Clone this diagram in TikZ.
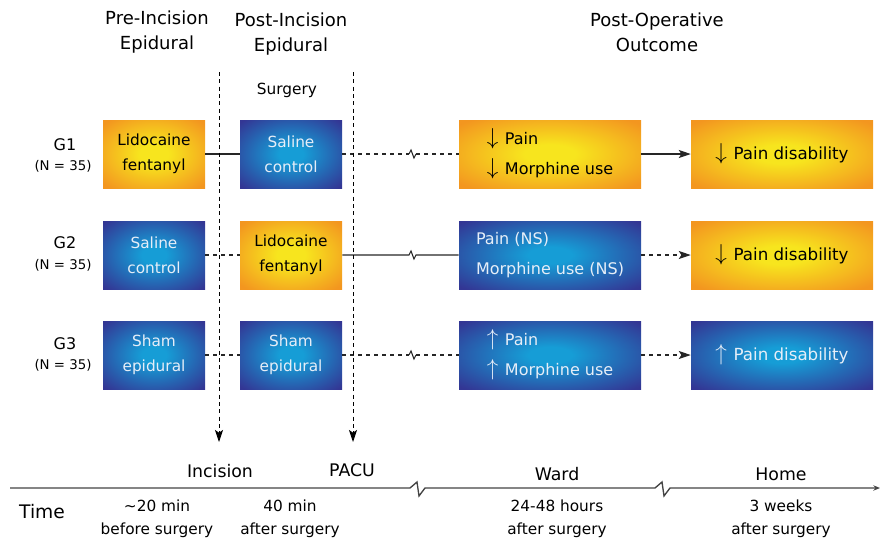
\documentclass[tikz,border=0pt]{standalone}
\usepackage{fontspec}
\setmainfont{DejaVu Sans}
\usepackage{xcolor}
\usepackage{tikz}
\usetikzlibrary{arrows.meta}

\definecolor{edgeorange}{HTML}{F3961F}
\definecolor{midyellow}{HTML}{F7E51E}
\definecolor{edgeblue}{HTML}{333694}
\definecolor{midcyan}{HTML}{169DD6}
\definecolor{paletext}{HTML}{E6EEF8}
\definecolor{axisgray}{HTML}{444444}

\pgfdeclareradialshading{orangeglow}{\pgfpoint{0bp}{0bp}}{color(0bp)=(midyellow); color(7bp)=(midyellow); color(33bp)=(edgeorange); color(50bp)=(edgeorange)}
\pgfdeclareradialshading{blueglow}{\pgfpoint{0bp}{0bp}}{color(0bp)=(midcyan); color(6bp)=(midcyan); color(34bp)=(edgeblue); color(50bp)=(edgeblue)}

\newcommand{\dn}{{\fontsize{17}{17}\selectfont$\downarrow$}\hspace{5pt}}
\newcommand{\up}{{\fontsize{17}{17}\selectfont$\uparrow$}\hspace{5pt}}

\tikzset{
  head/.style={align=center, font=\fontsize{13.5}{19}\selectfont},
  stage/.style={font=\fontsize{13}{16}\selectfont},
  when/.style={align=center, font=\fontsize{11.5}{17}\selectfont},
  glabel/.style={font=\fontsize{12}{14}\selectfont},
  nlabel/.style={font=\fontsize{10}{12}\selectfont},
  box/.style={rectangle, minimum width=76.5pt, minimum height=51pt, inner sep=0pt, align=center, font=\fontsize{11.5}{18.5}\selectfont},
  widebox/.style={box, minimum width=136.5pt, align=left, font=\fontsize{12}{22.5}\selectfont},
  endbox/.style={box, minimum width=136.5pt, font=\fontsize{12.5}{16}\selectfont},
  hot/.style={shading=orangeglow, text=black},
  cold/.style={shading=blueglow, text=paletext},
  link/.style={line width=0.8pt, black!85},
  guide/.style={line width=0.7pt, dash pattern=on 3pt off 2.5pt},
  axisline/.style={line width=1pt, axisgray}
}

\begin{document}
\begin{tikzpicture}[x=0.75pt,y=-0.75pt,>={Stealth[length=9pt,width=6pt,inset=2pt]}]
\useasboundingbox (0,0) rectangle (881,540) ;

\node[head] (pre) at (157,32) {Pre-Incision\\Epidural} ;
\node[head] (post) at (291,34) {Post-Incision\\Epidural} ;
\node[head] (outcome) at (657,32) {Post-Operative\\Outcome} ;
\node[when] (surgery) at (287,90) {Surgery} ;

\node[glabel] (g1) at (65,145) {G1} ;
\node[nlabel] (n1) at (63,166) {(N = 35)} ;
\node[glabel] (g2) at (65,243) {G2} ;
\node[nlabel] (n2) at (63,265) {(N = 35)} ;
\node[glabel] (g3) at (65,344) {G3} ;
\node[nlabel] (n3) at (63,365) {(N = 35)} ;

\node[box,hot] (g1a) at (154,154) {Lidocaine\\fentanyl} ;
\node[box,cold] (g1b) at (291,154) {Saline\\control} ;
\node[widebox,hot] (g1c) at (550,154) {\dn Pain\\\dn Morphine use} ;
\node[endbox,hot] (g1d) at (782,154) {\dn Pain disability} ;

\node[box,cold] (g2a) at (154,255) {Saline\\control} ;
\node[box,hot] (g2b) at (291,255) {Lidocaine\\fentanyl} ;
\node[widebox,cold] (g2c) at (550,255) {Pain (NS)\\Morphine use (NS)} ;
\node[endbox,hot] (g2d) at (782,255) {\dn Pain disability} ;

\node[box,cold] (g3a) at (154,355) {Sham\\epidural} ;
\node[box,cold] (g3b) at (291,355) {Sham\\epidural} ;
\node[widebox,cold] (g3c) at (550,355) {\up Pain\\\up Morphine use} ;
\node[endbox,cold] (g3d) at (782,355) {\up Pain disability} ;

\coordinate (k1) at (409,154) ;
\coordinate (k1b) at (416,154) ;
\coordinate (k2) at (409,255) ;
\coordinate (k2b) at (416,255) ;
\coordinate (k3) at (409,355) ;
\coordinate (k3b) at (416,355) ;

\draw[link] (g1a) -- (g1b) ;
\draw[link,dashed] (g1b) -- (k1) ;
\draw[link] (k1) -- ++(2,-4) -- ++(3,8) -- (k1b) ;
\draw[link,dashed] (k1b) -- (g1c) ;
\draw[link,->] (g1c) -- (g1d) ;

\draw[link,dashed] (g2a) -- (g2b) ;
\draw[link] (g2b) -- (k2) -- ++(2,-4) -- ++(3,8) -- (k2b) -- (g2c) ;
\draw[link,dashed,->] (g2c) -- (g2d) ;

\draw[link,dashed] (g3a) -- (g3b) ;
\draw[link,dashed] (g3b) -- (k3) ;
\draw[link] (k3) -- ++(2,-4) -- ++(3,8) -- (k3b) ;
\draw[link,dashed] (k3b) -- (g3c) ;
\draw[link,dashed,->] (g3c) -- (g3d) ;

\coordinate (inctop) at (219,72) ;
\coordinate (incend) at (219,442) ;
\coordinate (pacutop) at (353,72) ;
\coordinate (pacuend) at (353,442) ;
\draw[guide,->] (inctop) -- (incend) ;
\draw[guide,->] (pacutop) -- (pacuend) ;

\node[stage] (incision) at (220,471) {Incision} ;
\node[stage] (pacu) at (352,470) {PACU} ;
\node[stage] (ward) at (557,474) {Ward} ;
\node[stage] (home) at (781,474) {Home} ;

\coordinate (t0) at (10,488) ;
\coordinate (tb1) at (410,488) ;
\coordinate (tb2) at (655,488) ;
\coordinate (tend) at (880,488) ;
\draw[axisline,-{Stealth[length=5pt,width=4pt]}] (t0) -- (tb1) -- ++(7,-6) -- ++(2,14) -- ++(6,-8) -- (tb2) -- ++(7,-6) -- ++(2,14) -- ++(6,-8) -- (tend) ;

\node[font=\fontsize{14}{16}\selectfont] (time) at (42,512) {Time} ;
\node[when] (before) at (157,519) {\textasciitilde20 min\\before surgery} ;
\node[when] (after40) at (290,519) {40 min\\after surgery} ;
\node[when] (afterward) at (557,519) {24-48 hours\\after surgery} ;
\node[when] (afterhome) at (781,519) {3 weeks\\after surgery} ;
\end{tikzpicture}
\end{document}
